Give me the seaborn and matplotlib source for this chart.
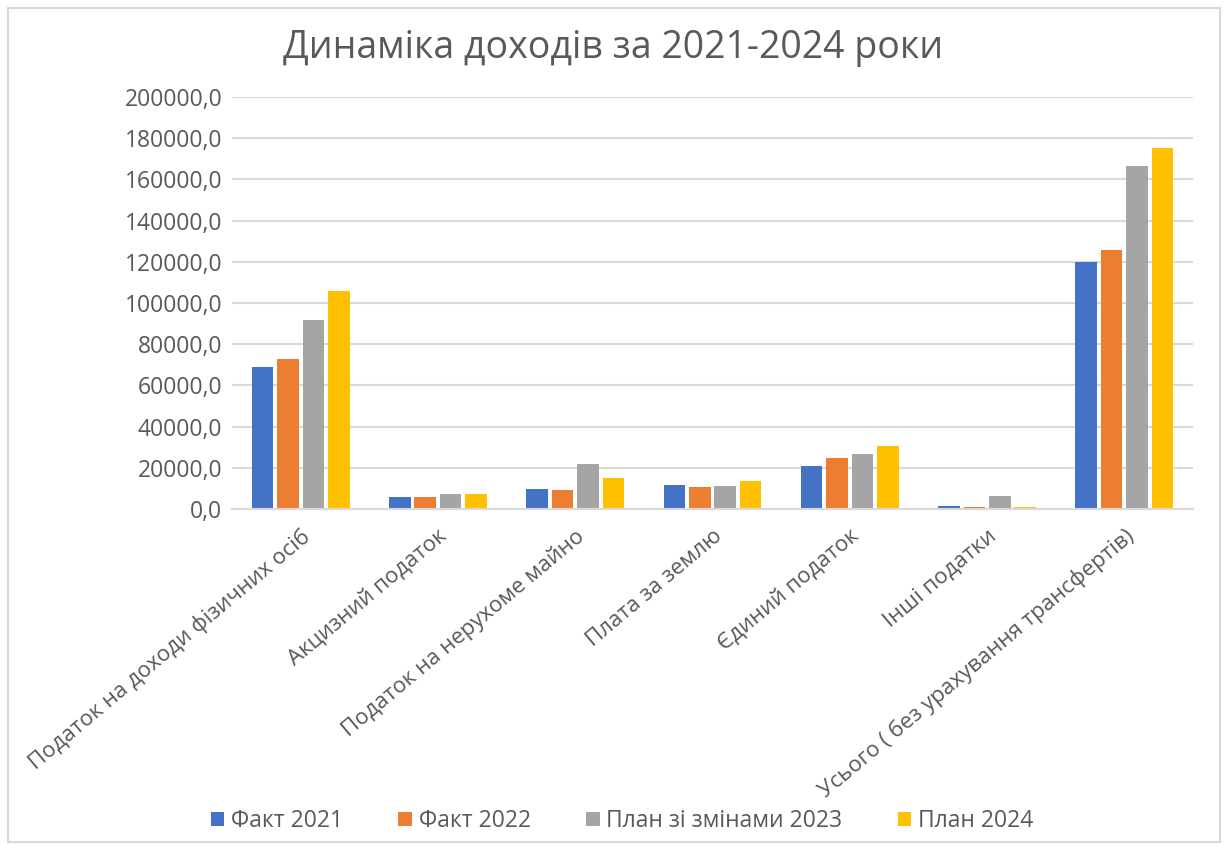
import matplotlib
matplotlib.use("Agg")
import matplotlib.pyplot as plt
import seaborn as sns
import pandas as pd
from matplotlib.patches import Rectangle
from matplotlib.ticker import FuncFormatter, MultipleLocator

categories = ["Податок на доходи фізичних осіб", "Акцизний податок",
              "Податок на нерухоме майно", "Плата за землю", "Єдиний податок",
              "Інші податки", "Усього ( без урахування трансфертів)"]
series_names = ["Факт 2021", "Факт 2022", "План зі змінами 2023", "План 2024"]
fact_2021 = [69000, 5600, 9500, 11700, 20700, 1600, 119900]
fact_2022 = [72900, 5600, 9000, 10600, 24600, 1100, 125800]
plan_2023 = [91800, 7300, 21800, 11200, 26800, 6200, 166300]
plan_2024 = [105700, 7300, 15200, 13500, 30700, 1100, 175200]
colors = ["#4472C4", "#ED7D31", "#A5A5A5", "#FFC000"]

rows = []
for name, vals in zip(series_names, [fact_2021, fact_2022, plan_2023, plan_2024]):
    for c, v in zip(categories, vals):
        rows.append({"cat": c, "series": name, "value": v})
df = pd.DataFrame(rows)

sns.set_theme(style="white")
plt.rcParams["font.family"] = ["Open Sans", "DejaVu Sans"]

fig = plt.figure(figsize=(12.27, 8.5), dpi=100)
ax = fig.add_axes([232/1227, 1 - 509/850, (1193-232)/1227, (509-97)/850])

sns.barplot(data=df, x="cat", y="value", hue="series", order=categories,
            hue_order=series_names, palette=colors, saturation=1, width=0.74, gap=0.15,
            edgecolor="none", linewidth=0, ax=ax, legend=True)

ax.set_ylim(0, 200000)
ax.set_xlim(-0.5, len(categories) - 0.5)
ax.yaxis.set_major_locator(MultipleLocator(20000))
ax.yaxis.set_major_formatter(FuncFormatter(lambda v, p: f"{v:.1f}".replace(".", ",")))
ax.grid(axis="y", color="#D9D9D9", linewidth=1.5)
ax.set_axisbelow(True)
for s in ["top", "right", "left"]:
    ax.spines[s].set_visible(False)
ax.spines["bottom"].set_color("#D9D9D9")
ax.spines["bottom"].set_linewidth(1.5)
ax.set_xlabel("")
ax.set_ylabel("")
ax.tick_params(axis="y", labelsize=16.5, colors="#595959", length=0, pad=7)
ax.tick_params(axis="x", labelsize=16, colors="#595959", length=0, pad=12)
ax.set_xticks(range(len(categories)))
ax.set_xticklabels(categories, rotation=40, ha="right", rotation_mode="anchor")

fig.text(0.5, 1 - 48/850, "Динаміка доходів за 2021-2024 роки", ha="center", va="center",
         fontsize=27, color="#595959")

h, l = ax.get_legend_handles_labels()
ax.get_legend().remove()
fig.legend(h, l, loc="center", bbox_to_anchor=(622/1227, 1 - 821/850), ncol=4,
           frameon=False, fontsize=16.5, labelcolor="#595959", handlelength=0.6,
           handleheight=0.6, handletextpad=0.3, columnspacing=2.4)

fig.patches.append(Rectangle((8/1227, 1 - 842/850), 1212/1227, 834/850,
                             transform=fig.transFigure, fill=False,
                             edgecolor="#D9D9D9", linewidth=1.5))

fig.savefig("out.png", dpi=100, facecolor="white")
